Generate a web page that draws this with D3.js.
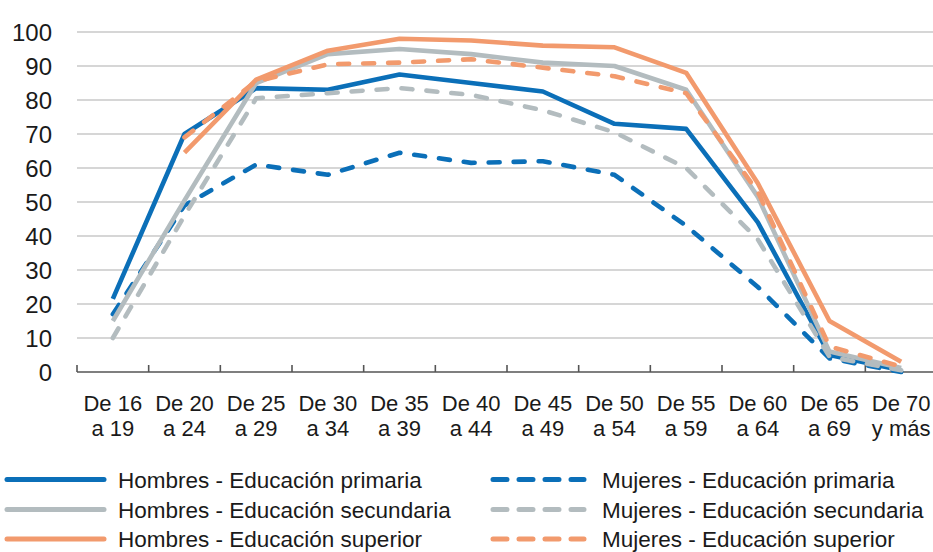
<!DOCTYPE html>
<html>
<head>
<meta charset="utf-8">
<script src="https://cdn.jsdelivr.net/npm/d3@7/dist/d3.min.js"></script>
<style>
  html, body { margin: 0; padding: 0; background: #fff; }
  svg { display: block; font-family: "Liberation Sans", Arial, sans-serif; }
</style>
</head>
<body>
<svg id="chart" width="933" height="552"></svg>
<script>
// ---- Data ----
const categories = ["De 16 a 19","De 20 a 24","De 25 a 29","De 30 a 34","De 35 a 39","De 40 a 44","De 45 a 49","De 50 a 54","De 55 a 59","De 60 a 64","De 65 a 69","De 70 y más"];
const catLine1 = ["De 16","De 20","De 25","De 30","De 35","De 40","De 45","De 50","De 55","De 60","De 65","De 70"];
const catLine2 = ["a 19","a 24","a 29","a 34","a 39","a 44","a 49","a 54","a 59","a 64","a 69","y más"];
const yTicks = [0,10,20,30,40,50,60,70,80,90,100];

const hombresPrimaria   = [21.5, 70, 83.5, 83, 87.5, 85, 82.5, 73, 71.5, 44, 5, 0.5];
const hombresSecundaria = [15, 50.5, 85, 93.5, 95, 93.5, 91, 90, 83, 51.5, 6, 1.2];
const hombresSuperior   = [null, 64.5, 86, 94.5, 98, 97.5, 96, 95.5, 88, 55.5, 15, 3];
const mujeresPrimaria   = [17, 49, 61, 58, 64.5, 61.5, 62, 58, 43, 25, 4, 0];
const mujeresSecundaria = [10, 46, 80.5, 82, 83.5, 81.5, 77, 70.5, 60, 39, 4.5, 0.5];
const mujeresSuperior   = [null, 69, 85.5, 90.5, 91, 92, 89.5, 87, 82, 53, 7.5, 1.6];

const seriesNames = ["Hombres - Educación primaria","Hombres - Educación secundaria","Hombres - Educación superior",
                     "Mujeres - Educación primaria","Mujeres - Educación secundaria","Mujeres - Educación superior"];

const blue = "#0b6fb8", gray = "#b3bcbf", orange = "#f29a6d";

const series = [
  {name: seriesNames[0], values: hombresPrimaria,   color: blue,   dashed: false},
  {name: seriesNames[1], values: hombresSecundaria, color: gray,   dashed: false},
  {name: seriesNames[2], values: hombresSuperior,   color: orange, dashed: false},
  {name: seriesNames[3], values: mujeresPrimaria,   color: blue,   dashed: true},
  {name: seriesNames[4], values: mujeresSecundaria, color: gray,   dashed: true},
  {name: seriesNames[5], values: mujeresSuperior,   color: orange, dashed: true}
];
// drawing order (bottom to top)
const drawOrder = [0, 3, 4, 1, 5, 2];

// ---- Layout ----
const svg = d3.select("#chart");
const x = d3.scaleBand().domain(categories).range([77, 937]).padding(0);
const y = d3.scaleLinear().domain([0, 100]).range([372, 32]);
const cx = c => x(c) + x.bandwidth() / 2;

// gridlines
svg.append("g").selectAll("line").data(yTicks.filter(t => t > 0)).join("line")
  .attr("x1", 77).attr("x2", 933)
  .attr("y1", d => y(d)).attr("y2", d => y(d))
  .attr("stroke", "#c8c8c8").attr("stroke-width", 1.4);

// y labels
svg.append("g").selectAll("text").data(yTicks).join("text")
  .attr("x", 52).attr("y", d => y(d)).attr("dy", "0.36em")
  .attr("text-anchor", "end").attr("font-size", 24).attr("fill", "#1a1a1a")
  .text(d => d);

// x axis line + ticks at band boundaries
const ax = svg.append("g");
ax.append("line").attr("x1", 77).attr("x2", 933).attr("y1", y(0)).attr("y2", y(0))
  .attr("stroke", "#555").attr("stroke-width", 1.6);
const bounds = d3.range(categories.length).map(i => x(categories[i]));
ax.selectAll("line.tk").data(bounds).join("line").attr("class", "tk")
  .attr("x1", d => d).attr("x2", d => d).attr("y1", y(0)).attr("y2", y(0) - 7)
  .attr("stroke", "#555").attr("stroke-width", 1.6);

// x labels
const xl = svg.append("g").attr("font-size", 22).attr("fill", "#1a1a1a").attr("text-anchor", "middle");
xl.selectAll("text.l1").data(categories).join("text").attr("class", "l1")
  .attr("x", d => cx(d)).attr("y", 411).text((d, i) => catLine1[i]);
xl.selectAll("text.l2").data(categories).join("text").attr("class", "l2")
  .attr("x", d => cx(d)).attr("y", 436).text((d, i) => catLine2[i]);

// lines
const line = d3.line()
  .defined(d => d.v !== null)
  .x(d => cx(d.c)).y(d => y(d.v));

const lg = svg.append("g");
drawOrder.forEach(k => {
  const s = series[k];
  lg.append("path")
    .datum(categories.map((c, i) => ({c, v: s.values[i]})))
    .attr("d", line)
    .attr("fill", "none")
    .attr("stroke", s.color)
    .attr("stroke-width", 4.6)
    .attr("stroke-linejoin", "round")
    .attr("stroke-linecap", s.dashed ? "round" : "butt")
    .attr("stroke-dasharray", s.dashed ? "11,14" : null);
});

// legend
const rows = [479.5, 509.5, 539];
const leg = svg.append("g").attr("font-size", 22.5).attr("fill", "#1a1a1a");
series.forEach((s, i) => {
  const col = s.dashed ? 1 : 0;
  const r = rows[i % 3];
  const x1 = col ? 493 : 7, x2 = col ? 584 : 104, tx = col ? 602 : 118;
  leg.append("line").attr("x1", x1).attr("x2", x2).attr("y1", r).attr("y2", r)
    .attr("stroke", s.color).attr("stroke-width", 5)
    .attr("stroke-linecap", "round")
    .attr("stroke-dasharray", s.dashed ? "14,12" : null);
  leg.append("text").attr("x", tx).attr("y", r).attr("dy", "0.36em").text(s.name);
});
</script>
</body>
</html>
